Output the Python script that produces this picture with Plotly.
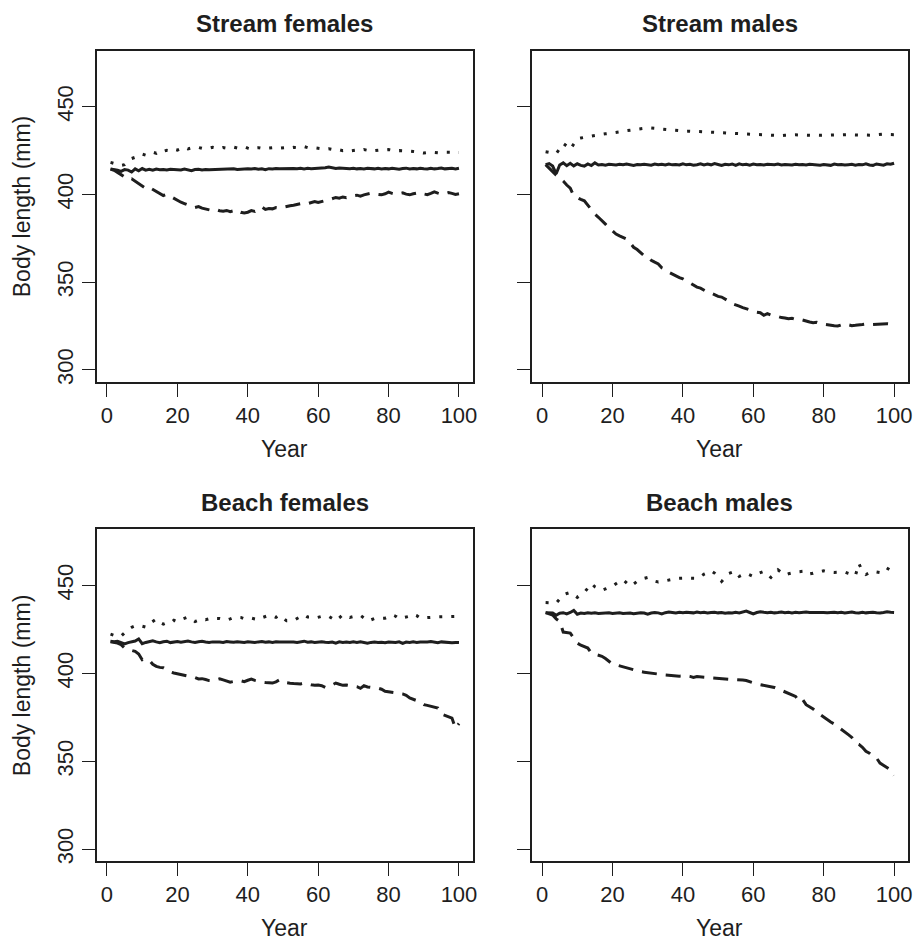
import plotly.graph_objects as go

years = list(range(1, 101))

# ---------------- Stream females ----------------
sf_solid = [414.5, 414.3, 413.8, 413.2, 414.2, 413.9, 412.8, 414.6, 413.5, 414.8,
            413.9, 414.3, 413.8, 414.5, 414.1, 414.3, 414.0, 414.4, 414.2, 414.3,
            414.0, 414.5, 414.1, 413.6, 414.2, 414.4, 414.0, 414.3, 414.1, 414.2,
            413.9, 414.3, 414.5, 414.2, 414.4, 414.6, 414.3, 414.5, 414.4, 414.7,
            414.5, 414.8, 414.4, 414.6, 414.1, 414.7, 414.5, 414.8, 414.6, 414.7,
            414.9, 414.6, 414.8, 414.7, 415.0, 414.6, 414.9, 414.7, 414.8, 415.0,
            414.8, 415.2, 415.6, 415.0, 414.8, 415.1, 414.9, 415.0, 414.7, 414.9,
            414.6, 414.8, 414.5, 414.9, 414.7, 414.6, 414.9, 414.5, 414.8, 414.6,
            414.9, 414.7, 414.4, 414.8, 415.0, 414.5, 414.8, 414.6, 415.0, 414.7,
            414.5, 414.9, 414.6, 414.8, 415.1, 414.6, 414.8, 414.9, 414.6, 415.0]
sf_dot = [418.3, 417.8, 417.2, 416.6, 417.0, 418.8, 420.5, 421.2, 422.6, 423.0,
          422.4, 423.4, 424.1, 423.5, 425.0, 424.6, 425.2, 424.9, 425.8, 425.3,
          426.2, 426.9, 426.0, 426.5, 426.2, 426.8, 426.3, 426.7, 426.4, 426.9,
          426.5, 426.2, 426.8, 426.4, 426.6, 427.0, 426.5, 426.8, 427.2, 426.4,
          425.8, 426.5, 426.7, 426.3, 426.8, 426.5, 426.7, 426.9, 426.4, 426.6,
          426.8, 426.5, 426.9, 426.6, 427.0, 427.3, 426.7, 426.4, 426.6, 426.2,
          426.0, 425.8, 426.1, 425.6, 425.2, 425.5, 425.0, 425.3, 424.8, 425.1,
          425.4, 425.0, 425.6, 425.2, 424.6, 425.0, 425.3, 425.5, 425.4, 425.6,
          425.2, 424.8, 425.0, 424.9, 425.2, 424.7, 424.5, 424.2, 423.8, 423.6,
          423.9, 424.2, 424.0, 423.8, 424.1, 424.0, 423.9, 424.1, 423.8, 424.0]
sf_dash = [414.5, 413.8, 412.6, 411.2, 409.8, 408.6, 408.9, 407.6, 406.2, 404.8,
           403.5, 404.1, 402.8, 401.6, 400.3, 399.4, 400.1, 398.9, 397.6, 396.5,
           395.6, 394.8, 393.9, 393.2, 392.6, 393.1, 392.2, 391.8, 391.3, 390.8,
           391.4, 390.7, 390.5, 390.9, 390.2, 390.6, 391.2, 389.8, 389.5, 389.9,
           390.8, 390.3, 391.6, 392.9, 391.5, 392.0, 391.8, 392.5, 392.2, 392.8,
           393.4, 393.6, 393.9, 394.2, 394.8, 395.2, 394.8, 395.5, 396.0, 395.4,
           396.1, 396.5, 396.9, 397.8, 398.3, 397.9, 398.6, 398.2, 398.9, 399.3,
           399.6, 399.0, 399.8, 400.2, 400.7, 400.3, 400.1, 399.8, 400.4, 401.3,
           400.6, 400.1, 400.5, 400.9, 400.2, 399.8, 400.4, 400.9, 401.2, 400.3,
           399.9, 400.6, 401.5, 400.8, 400.2, 400.5, 401.1, 400.6, 400.0, 400.4]

# ---------------- Stream males ----------------
sm_solid = [417.0, 417.6, 416.2, 411.8, 416.8, 418.0, 416.4, 417.8, 416.3, 417.5,
            416.6, 416.2, 417.4, 416.5, 418.0, 416.8, 417.1, 416.7, 417.2, 417.0,
            416.8, 417.2, 416.9, 417.3, 417.0, 416.6, 417.1, 416.9, 417.2, 417.0,
            416.7, 417.3, 416.9, 417.2, 416.8, 417.4, 416.9, 417.1, 416.8, 417.5,
            416.9, 417.2, 416.7, 417.0, 417.5, 416.8, 417.3, 416.9, 417.6, 417.1,
            416.5, 417.2, 416.9, 417.4, 416.6, 417.5, 416.9, 417.2, 416.7, 417.3,
            416.9, 417.1, 416.8, 417.2, 417.0, 416.9, 417.3, 416.8, 417.1, 417.0,
            416.8, 417.2, 416.9, 417.1, 416.8, 417.2, 416.9, 417.0, 416.7, 417.1,
            417.0, 416.6, 417.3, 416.9, 417.1, 416.8, 417.0, 417.2, 416.7, 417.1,
            416.9, 417.5, 416.8, 416.6, 417.4, 417.2, 416.7, 417.5, 417.2, 417.8]
sm_dot = [424.4, 424.0, 423.6, 423.3, 426.0, 429.1, 427.6, 425.7, 428.8, 431.8,
          432.2, 432.6, 433.0, 433.4, 433.8, 434.1, 434.4, 434.6, 434.8, 435.0,
          435.3, 435.7, 436.1, 436.4, 436.7, 437.1, 437.3, 437.5, 437.8, 438.0,
          437.9, 437.7, 437.5, 437.2, 437.0, 436.7, 436.5, 436.4, 436.2, 436.1,
          436.0, 436.1, 436.0, 435.9, 436.0, 435.8, 435.8, 435.6, 435.4, 435.2,
          435.2, 435.0, 434.9, 434.8, 434.7, 434.6, 434.6, 434.5, 434.5, 434.4,
          434.4, 434.3, 434.2, 434.1, 434.0, 433.8, 433.6, 433.5, 433.7, 433.9,
          434.0, 434.0, 433.9, 433.8, 433.7, 433.7, 433.7, 433.7, 433.7, 433.8,
          433.9, 434.0, 434.1, 434.2, 434.2, 434.2, 434.1, 434.0, 433.9, 433.9,
          433.8, 433.7, 433.7, 433.8, 434.0, 434.3, 434.4, 434.2, 434.0, 434.1]
sm_dash = [417.0, 415.2, 413.0, 411.0, 409.4, 407.7, 405.4, 403.6, 399.2, 398.1,
           397.2, 396.4, 394.0, 391.0, 388.8, 387.0, 385.2, 383.1, 381.0, 379.2,
           377.4, 376.4, 375.3, 374.6, 372.4, 369.9, 368.6, 366.8, 365.1, 364.6,
           362.5, 361.4, 360.4, 358.2, 357.3, 355.7, 354.6, 353.4, 352.6, 351.9,
           350.6, 349.5, 348.1, 347.2, 346.6, 345.4, 344.3, 343.8, 342.6, 341.9,
           341.5, 340.4, 339.2, 337.7, 337.2, 336.3, 335.5, 334.8, 334.2, 333.4,
           332.9, 332.6, 331.1, 332.0, 331.2, 331.0, 330.2, 329.8, 329.6, 329.1,
           329.4, 328.6, 328.2, 328.4, 327.7, 327.3, 326.9, 327.1, 326.4, 326.0,
           325.8, 325.6, 325.2, 325.0, 325.6, 326.3, 325.7, 325.2, 325.4, 325.5,
           325.9, 326.2, 325.8, 325.9, 326.1, 326.0, 326.2, 326.3, 326.1, 326.2]

# ---------------- Beach females ----------------
bf_solid = [418.2, 418.0, 418.3, 417.6, 416.8, 417.5, 418.1, 418.4, 419.6, 416.9,
            417.6, 418.2, 418.5, 417.9, 417.4, 418.0, 418.3, 417.5, 417.8, 418.1,
            417.7, 418.2, 418.4, 417.9, 417.6, 418.0, 418.2, 417.8, 417.6, 417.9,
            418.0, 417.8, 417.6, 418.1, 417.9, 417.7, 418.0, 417.8, 417.6, 418.0,
            417.8, 417.6, 417.9, 418.1, 417.7, 417.9, 417.6, 418.0, 417.8, 417.9,
            417.7, 418.0, 417.8, 417.6, 417.9, 418.3, 417.7, 417.9, 417.6, 417.8,
            418.0, 417.7, 417.5, 417.8, 417.2, 417.9, 417.6, 417.8, 417.5, 417.9,
            417.6, 417.9, 417.4, 417.1, 417.6, 417.8, 417.5, 417.7, 417.4, 417.8,
            417.7, 417.5, 417.9, 417.0, 417.8, 417.6, 417.9, 417.6, 417.8, 417.7,
            417.9, 418.1, 417.6, 417.4, 417.9, 417.6, 417.5, 417.4, 417.6, 417.5]
bf_dot = [422.3, 421.8, 421.0, 421.2, 423.0, 425.0, 426.2, 427.0, 427.3, 426.8,
          426.3, 428.2, 429.8, 430.9, 429.0, 428.0, 428.8, 428.6, 430.2, 429.4,
          430.6, 431.5, 432.0, 430.8, 429.5, 430.2, 431.0, 430.5, 430.9, 431.6,
          431.2, 431.2, 430.7, 430.3, 431.0, 431.8, 432.0, 431.8, 431.0, 431.4,
          431.4, 430.9, 430.5, 431.6, 432.3, 433.0, 432.6, 431.8, 433.0, 431.5,
          429.9, 430.0, 430.0, 431.2, 432.5, 433.3, 432.0, 432.0, 431.4, 431.8,
          432.4, 432.0, 432.4, 431.2, 429.9, 431.5, 433.3, 432.6, 431.8, 432.3,
          432.6, 433.0, 431.5, 429.9, 430.4, 431.2, 431.3, 431.4, 431.4, 432.2,
          433.3, 432.5, 431.0, 431.6, 432.0, 432.5, 433.6, 432.8, 431.4, 431.6,
          432.0, 432.0, 432.0, 432.1, 432.2, 432.4, 432.4, 432.4, 432.4, 432.4]
bf_dash = [418.0, 417.8, 417.2, 416.3, 414.4, 413.6, 413.0, 412.5, 411.0, 407.7,
           408.3, 407.5, 405.2, 404.0, 403.4, 403.2, 402.0, 400.8, 400.2, 399.8,
           399.2, 398.7, 398.5, 398.3, 397.6, 396.8, 397.0, 396.5, 395.9, 395.8,
           396.2, 396.9, 396.3, 395.5, 395.0, 395.4, 395.9, 395.8, 395.3, 396.1,
           396.8, 396.0, 395.4, 395.0, 394.8, 394.6, 394.5, 395.2, 396.3, 395.0,
           394.5, 394.4, 394.2, 393.9, 394.0, 394.5, 393.8, 393.5, 393.2, 393.4,
           393.0, 392.0, 392.4, 393.5, 394.5, 393.8, 393.2, 393.4, 393.0, 393.0,
           392.4, 391.5, 393.0, 392.3, 391.8, 391.7, 391.6, 391.0, 389.8, 389.4,
           389.0, 388.8, 388.6, 388.3, 387.5, 386.0, 385.4, 384.5, 383.4, 382.2,
           381.8, 381.4, 380.8, 380.3, 376.9, 376.2, 375.5, 374.6, 368.8, 371.5]

# ---------------- Beach males ----------------
bm_solid = [434.5, 434.6, 434.4, 433.0, 434.2, 434.5, 433.8, 434.6, 435.8, 433.6,
            434.3, 434.0, 434.5, 434.2, 434.4, 434.1, 434.3, 434.2, 434.4, 434.0,
            434.3, 434.5, 434.1, 434.4, 434.3, 433.9, 434.2, 434.5, 434.3, 433.7,
            434.3, 434.6, 434.4, 433.8, 434.5, 434.9, 434.6, 434.3, 434.7, 434.5,
            434.8, 434.6, 434.4, 434.9, 434.5, 434.7, 434.3, 434.6, 434.8, 434.4,
            434.6, 434.2, 434.5, 434.3, 434.7, 434.4, 434.8, 435.4, 434.6, 433.8,
            434.6, 435.0, 434.7, 434.5, 434.8, 434.4, 434.6, 434.9, 434.5, 434.7,
            434.4, 434.7, 434.5, 434.8, 434.9, 434.6, 434.7, 434.5, 434.8, 434.6,
            434.4, 434.6, 434.8, 434.5, 434.7, 434.4, 434.6, 434.9, 434.5, 434.3,
            434.7, 434.4, 434.6, 434.8, 434.5, 434.3, 434.6, 435.0, 434.7, 434.6]
bm_dot = [440.3, 440.2, 440.1, 440.0, 442.3, 444.7, 445.4, 446.0, 444.6, 443.2,
          444.6, 446.0, 448.5, 451.1, 449.2, 448.0, 447.2, 448.0, 448.8, 449.6,
          451.0, 452.4, 453.2, 451.4, 449.6, 450.8, 452.3, 453.0, 454.0, 454.5,
          453.3, 452.4, 451.9, 452.2, 452.5, 452.8, 453.4, 454.0, 454.2, 454.2,
          454.2, 454.1, 454.0, 454.0, 455.0, 456.4, 457.2, 458.3, 457.0, 455.0,
          452.3, 454.5, 456.8, 457.5, 458.0, 455.1, 456.0, 456.9, 456.0, 455.1,
          456.5, 457.3, 458.0, 456.2, 454.5, 456.8, 458.9, 457.4, 455.9, 456.6,
          457.2, 457.5, 457.8, 458.0, 456.2, 456.5, 456.9, 457.6, 458.0, 458.3,
          457.8, 457.4, 457.4, 457.5, 457.6, 457.6, 456.8, 456.0, 455.5, 462.5,
          458.0, 456.2, 457.0, 458.1, 457.6, 457.2, 456.9, 458.5, 461.9, 460.5]
bm_dash = [434.5, 434.0, 433.2, 431.0, 429.5, 423.5, 423.2, 422.9, 420.0, 417.2,
           416.0, 415.2, 414.4, 411.5, 411.0, 410.5, 409.7, 408.4, 407.0, 405.3,
           404.8, 404.2, 403.6, 403.0, 402.5, 402.0, 401.5, 401.0, 400.7, 400.5,
           400.1, 399.8, 399.6, 399.2, 399.0, 398.9, 398.9, 398.6, 398.4, 398.5,
           398.7, 398.3, 397.7, 398.2, 398.0, 397.8, 397.9, 397.6, 397.3, 397.0,
           396.9, 396.8, 396.7, 396.6, 396.6, 396.4, 396.2, 395.9, 395.2, 394.6,
           394.0, 393.6, 393.3, 392.8, 392.6, 392.0, 391.2, 390.3, 389.4, 388.8,
           388.0, 386.9, 384.1, 385.2, 382.2, 381.0, 379.8, 378.0, 376.5, 375.2,
           373.8, 372.3, 371.2, 369.8, 368.2, 367.0, 365.2, 363.6, 360.4, 359.6,
           358.0, 355.7, 354.6, 352.8, 351.9, 349.0, 347.8, 346.4, 345.2, 342.0]

panel_titles = ["Stream females", "Stream males", "Beach females", "Beach males"]
panels = [(sf_solid, sf_dash, sf_dot), (sm_solid, sm_dash, sm_dot),
          (bf_solid, bf_dash, bf_dot), (bm_solid, bm_dash, bm_dot)]
x_ticks = [0, 20, 40, 60, 80, 100]
y_ticks = [300, 350, 400, 450]
x_title = "Year"
y_title = "Body length (mm)"

W, H = 917, 940
FONT = "Liberation Sans, Arial, Helvetica, sans-serif"
INK = "#1e1e1e"

# panel frames in pixels: (left, right, top, bottom)
frames = [(97, 475, 51, 383), (534, 912, 51, 383),
          (97, 475, 531, 864), (534, 912, 531, 864)]

fig = go.Figure()
layout = dict(width=W, height=H, margin=dict(l=0, r=0, t=0, b=0),
              paper_bgcolor="white", plot_bgcolor="white", showlegend=False,
              font=dict(family=FONT, color=INK))
annotations = []

for i, ((solid, dash, dot), (l, r, t, b)) in enumerate(zip(panels, frames)):
    n = i + 1
    xa = "x" if n == 1 else f"x{n}"
    ya = "y" if n == 1 else f"y{n}"
    styles = [(solid, "solid", 3), (dash, "15px,9px", 3), (dot, "3px,9px", 3)]
    for vals, d, w in styles:
        fig.add_trace(go.Scatter(x=years, y=vals, mode="lines", xaxis=xa, yaxis=ya,
                                 line=dict(color=INK, width=w, dash=d),
                                 hoverinfo="skip"))
    common = dict(showline=True, mirror=True, linecolor=INK, linewidth=1.6,
                  ticks="outside", ticklen=13, tickwidth=1.2, tickcolor=INK,
                  showgrid=False, zeroline=False,
                  tickfont=dict(family=FONT, size=22, color=INK))
    layout["xaxis" if n == 1 else f"xaxis{n}"] = dict(
        common, domain=[l / W, r / W], range=[-2.96, 103.96], anchor=ya,
        tickvals=x_ticks, ticktext=[str(v) for v in x_ticks])
    layout["yaxis" if n == 1 else f"yaxis{n}"] = dict(
        common, domain=[1 - b / H, 1 - t / H], range=[293.2, 481.9], anchor=xa,
        tickvals=y_ticks, ticktext=[str(v) for v in y_ticks], tickangle=-90,
        showticklabels=(n in (1, 3)))
    cx = (l + r) / 2
    annotations.append(dict(text=f"<b>{panel_titles[i]}</b>", x=cx / W, y=1 - (t - 27) / H,
                            xref="paper", yref="paper", showarrow=False,
                            xanchor="center", yanchor="middle",
                            font=dict(family=FONT, size=24, color=INK)))
    annotations.append(dict(text=x_title, x=cx / W, y=1 - (b + 67) / H,
                            xref="paper", yref="paper", showarrow=False,
                            xanchor="center", yanchor="middle",
                            font=dict(family=FONT, size=23, color=INK)))
    if n in (1, 3):
        annotations.append(dict(text=y_title, x=22 / W, y=1 - ((t + b) / 2 - 10) / H,
                                xref="paper", yref="paper", showarrow=False,
                                textangle=-90, xanchor="center", yanchor="middle",
                                font=dict(family=FONT, size=23, color=INK)))

layout["annotations"] = annotations
fig.update_layout(**layout)
fig.write_html("out.html", config={"displayModeBar": False})
